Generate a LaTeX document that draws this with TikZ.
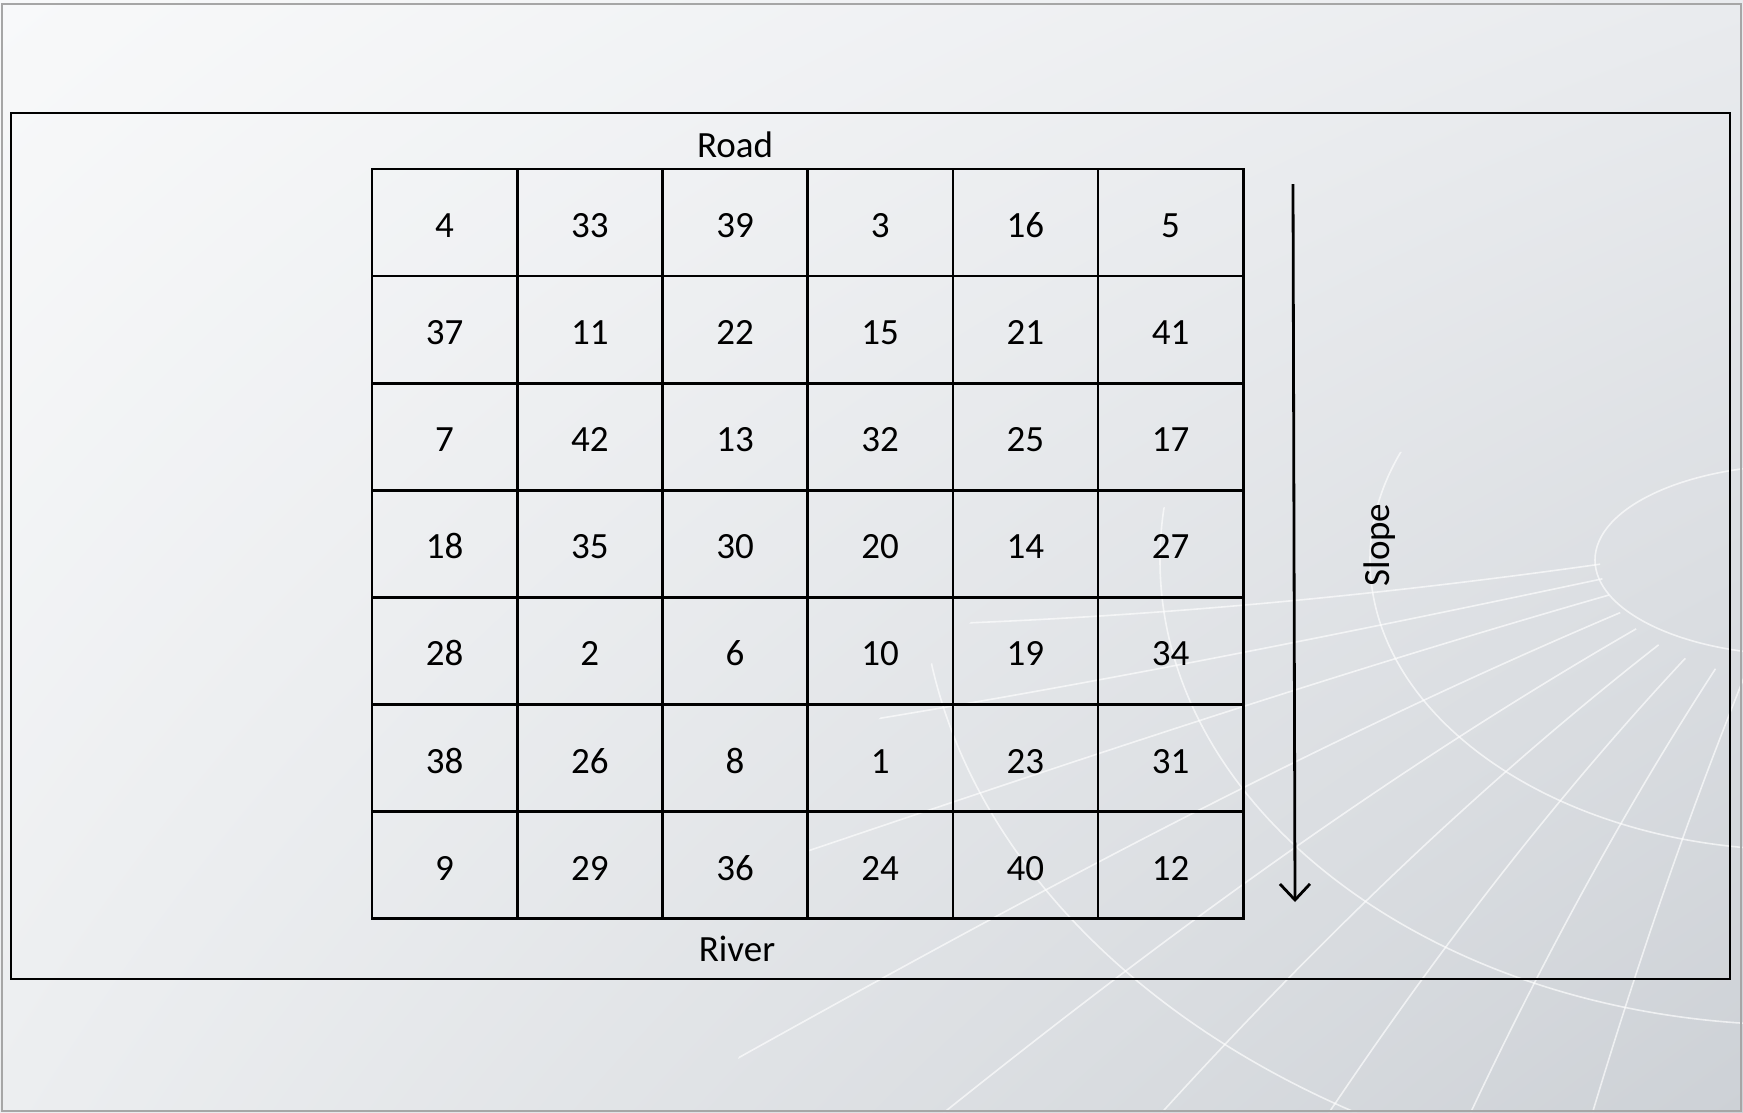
\documentclass[tikz,border=0pt]{standalone}
\usepackage{fontspec}
\setmainfont{Carlito}
\usetikzlibrary{arrows.meta,shadings}
\definecolor{bgA}{HTML}{F8F9FA}
\definecolor{bgB}{HTML}{E9EBEE}
\definecolor{bgC}{HTML}{ECEEF0}
\definecolor{bgD}{HTML}{CDD1D6}
\tikzset{
  cell/.style={draw=black, line width=2.6pt, minimum width=145.2pt, minimum height=107.1pt,
    inner sep=0pt, text height=30pt, text depth=0pt, font=\fontsize{37}{44}\selectfont},
  lbl/.style={inner sep=0pt, font=\fontsize{37}{44}\selectfont},
  globe/.style={draw=white, line width=1.6pt, opacity=0.65},
}
\begin{document}
\begin{tikzpicture}[x=1pt,y=-1pt]
\useasboundingbox (0,0) rectangle (1743,1112);
% background
\shade[upper left=bgA, upper right=bgB, lower left=bgC, lower right=bgD] (0,0) rectangle (1743,1112);
\begin{scope}
\clip (720,1112) -- (840,760) -- (1020,570) -- (1250,470) -- (1500,440) -- (1743,430) -- (1743,1112) -- cycle;
\foreach \r/\s in {205/95, 430/290, 640/465, 880/640}
  \draw[globe] (1800,560) ellipse ({\r} and {\s});
\foreach \t/\b in {2/-6, 9/-3, 17/1, 26/3, 35/5, 45/7, 55/8, 65/8, 74/6}
  \draw[globe] ({1800+200*cos(180-\t)},{560+120*sin(180-\t)})
    .. controls +({180-\t+\b}:450) and +({-\t-\b}:450) ..
    ({1800+1500*cos(180-\t)},{560+1500*sin(180-\t)});
\end{scope}
\draw[gray!70, line width=2pt] (2,4) rectangle (1741,1111);
% frame
\draw[black, line width=2.6pt] (11,113) rectangle (1730,979);
% grid
\foreach \row [count=\i] in {{4,33,39,3,16,5},{37,11,22,15,21,41},{7,42,13,32,25,17},
  {18,35,30,20,14,27},{28,2,6,10,19,34},{38,26,8,1,23,31},{9,29,36,24,40,12}}{
  \foreach \v [count=\j] in \row
    \node[cell] (c-\i-\j) at ({372+145.2*(\j-0.5)},{169+107.1*(\i-0.5)}) {\v};
}
\node[lbl] (road) at (735,145) {Road};
\node[lbl] (river) at (737,949) {River};
\coordinate (atop) at (1293,184);
\coordinate (abot) at (1295,902);
\draw[line width=2.8pt, -{Straight Barb[length=16pt,width=30pt,line width=2.8pt]}] (atop) -- (abot);
\node[lbl, rotate=90] (slope) at (1380,545) {Slope};
\end{tikzpicture}
\end{document}
